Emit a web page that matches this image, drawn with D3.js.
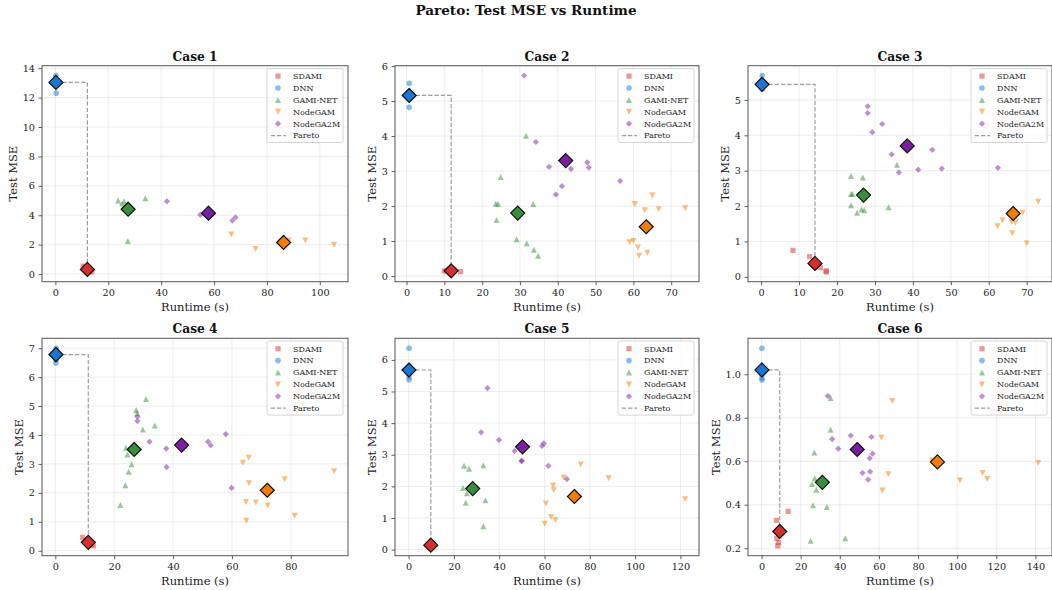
<!DOCTYPE html>
<html><head><meta charset="utf-8">
<script src="https://cdn.jsdelivr.net/npm/d3@7"></script>
<style>body{margin:0;background:#fff} svg{font-family:"DejaVu Serif",serif;display:block}</style>
</head><body><svg id="c" width="1052" height="590"></svg>
<script>
// ---------------- DATA ----------------
const methods = ["SDAMI", "DNN", "GAMI-NET", "NodeGAM", "NodeGA2M"];
const methodColors = ["#d32f2f", "#1976d2", "#388e3c", "#f57c00", "#7b1fa2"];
const caseTitles = ["Case 1", "Case 2", "Case 3", "Case 4", "Case 5", "Case 6"];

// Case 1 [runtime s, test MSE]
const c1_SDAMI = [[10.5,0.55],[11.3,0.45],[12.8,0.2],[13.8,0.15],[12.0,0.3]];
const c1_DNN = [[0.2,13.5],[0.3,12.3],[0.2,13.1],[0.3,13.0]];
const c1_GAMI = [[23.7,5.0],[25.2,4.8],[26.0,4.95],[34.0,5.15],[27.4,2.25],[27.0,4.5],[28.0,4.3]];
const c1_NodeGAM = [[66.5,2.69],[75.7,1.70],[88.2,2.28],[94.5,2.28],[105.4,1.99],[85.5,2.2]];
const c1_NodeGA2M = [[42.2,4.95],[54.8,4.03],[66.9,3.64],[68.1,3.85],[57.5,4.2]];
const c1_means = [[12.1,0.32],[0.2,13.03],[27.5,4.41],[86.3,2.15],[57.9,4.14]];

// Case 2
const c2_SDAMI = [[10.0,0.15],[14.3,0.13],[11.5,0.12],[12.5,0.18],[10.8,0.14]];
const c2_DNN = [[0.7,5.51],[0.7,4.82],[0.6,5.2]];
const c2_GAMI = [[31.6,4.01],[24.9,2.83],[23.6,2.07],[24.2,2.07],[23.8,1.60],[33.5,2.06],[29.1,1.05],[31.8,0.94],[33.7,0.75],[34.8,0.58]];
const c2_NodeGAM = [[60.4,2.06],[65.0,2.30],[63.0,1.88],[66.7,1.91],[73.7,1.94],[59.0,0.97],[60.0,1.00],[61.2,0.82],[61.5,0.58],[63.7,0.67]];
const c2_NodeGA2M = [[31.1,5.73],[34.2,3.83],[37.7,3.12],[43.5,3.06],[47.8,3.25],[48.2,3.10],[56.5,2.72],[41.1,2.57],[39.5,2.33]];
const c2_means = [[11.8,0.15],[0.7,5.16],[29.4,1.80],[63.4,1.41],[42.1,3.30]];

// Case 3
const c3_SDAMI = [[8.4,0.75],[12.8,0.57],[15.6,0.26],[17.1,0.17],[17.2,0.14]];
const c3_DNN = [[0.3,5.69],[0.2,5.4],[0.3,5.3]];
const c3_GAMI = [[23.7,2.85],[26.8,2.81],[23.7,2.34],[24.1,2.34],[23.7,2.02],[25.3,1.81],[26.5,1.91],[27.2,1.88],[33.6,1.97],[35.8,3.17]];
const c3_NodeGAM = [[62.4,4.13],[73.0,2.12],[68.9,1.81],[63.6,1.60],[62.3,1.43],[66.0,1.55],[67.0,1.53],[66.2,1.23],[70.0,0.94]];
const c3_NodeGA2M = [[28.1,4.82],[28.1,4.63],[31.9,4.32],[29.3,4.09],[34.4,3.46],[36.3,2.95],[41.4,3.03],[45.1,3.59],[47.6,3.06],[62.4,3.08]];
const c3_means = [[14.2,0.38],[0.26,5.44],[27.0,2.31],[66.4,1.79],[38.5,3.70]];

// Case 4
const c4_SDAMI = [[9.3,0.46],[12.9,0.17],[12.2,0.22],[10.5,0.35]];
const c4_DNN = [[0.3,7.0],[0.2,6.49],[0.25,6.6]];
const c4_GAMI = [[30.8,5.24],[27.5,4.86],[27.8,4.75],[29.7,4.19],[33.8,4.33],[24.0,3.56],[24.5,3.33],[25.9,2.99],[24.9,2.73],[23.8,2.26],[22.1,1.58]];
const c4_NodeGAM = [[63.7,3.04],[65.7,3.21],[65.8,2.33],[64.8,1.68],[68.1,1.67],[72.1,1.56],[77.9,2.47],[64.9,1.04],[81.3,1.21],[94.7,2.75]];
const c4_NodeGA2M = [[27.9,4.63],[27.9,4.48],[32.0,3.77],[37.7,3.53],[37.8,2.89],[51.9,3.77],[52.8,3.64],[57.9,4.03],[59.9,2.17]];
const c4_means = [[11.2,0.29],[0.2,6.78],[26.8,3.50],[72.0,2.09],[42.9,3.65]];

// Case 5
const c5_SDAMI = [[10.0,0.15],[9.7,0.12],[10.3,0.17]];
const c5_DNN = [[0.2,6.37],[0.2,5.47],[0.2,5.37],[0.1,5.7]];
const c5_GAMI = [[24.5,2.65],[26.7,2.56],[33.0,2.67],[24.0,1.95],[25.7,1.78],[25.2,1.48],[33.9,1.56],[33.0,0.74]];
const c5_NodeGAM = [[76.0,2.69],[88.3,2.26],[122.1,1.59],[68.5,2.27],[63.8,2.03],[64.1,1.88],[60.6,1.46],[62.9,1.03],[64.8,0.93],[60.1,0.82]];
const c5_NodeGA2M = [[34.8,5.11],[32.0,3.71],[39.9,3.47],[46.8,3.12],[50.0,2.81],[49.8,2.80],[58.9,3.28],[59.7,3.36],[61.7,2.65],[69.9,2.23]];
const c5_means = [[9.8,0.14],[0.15,5.68],[28.3,1.93],[73.2,1.68],[50.3,3.25]];

// Case 6
const c6_SDAMI = [[7.6,0.328],[13.6,0.369],[7.8,0.245],[8.7,0.226],[8.3,0.211]];
const c6_DNN = [[0.2,1.12],[0.2,0.983],[0.25,0.974],[0.15,1.0]];
const c6_GAMI = [[35.3,0.745],[27.0,0.64],[27.2,0.522],[25.8,0.495],[28.0,0.469],[26.3,0.398],[33.4,0.389],[25.1,0.234],[42.8,0.246],[35.3,0.891]];
const c6_NodeGAM = [[66.9,0.877],[61.3,0.708],[64.8,0.540],[61.8,0.466],[87.1,0.603],[101.4,0.511],[113.0,0.546],[115.4,0.518],[141.4,0.592]];
const c6_NodeGA2M = [[33.9,0.900],[36.1,0.702],[39.2,0.658],[45.6,0.718],[56.2,0.712],[56.8,0.635],[55.3,0.614],[51.6,0.546],[55.5,0.552],[54.5,0.515]];
const c6_means = [[9.3,0.277],[0.2,1.02],[31.1,0.503],[89.9,0.597],[48.9,0.654]];

// Tick values
const xTicks = [[0,20,40,60,80,100],[0,10,20,30,40,50,60,70],[0,10,20,30,40,50,60,70],[0,20,40,60,80],[0,20,40,60,80,100,120],[0,20,40,60,80,100,120,140]];
const yTicks = [[0,2,4,6,8,10,12,14],[0,1,2,3,4,5,6],[0,1,2,3,4,5],[0,1,2,3,4,5,6,7],[0,1,2,3,4,5,6],[0.2,0.4,0.6,0.8,1.0]];
const yTickFormats = ["d","d","d","d","d",".1f"];

const casePoints = [
  [c1_SDAMI,c1_DNN,c1_GAMI,c1_NodeGAM,c1_NodeGA2M],
  [c2_SDAMI,c2_DNN,c2_GAMI,c2_NodeGAM,c2_NodeGA2M],
  [c3_SDAMI,c3_DNN,c3_GAMI,c3_NodeGAM,c3_NodeGA2M],
  [c4_SDAMI,c4_DNN,c4_GAMI,c4_NodeGAM,c4_NodeGA2M],
  [c5_SDAMI,c5_DNN,c5_GAMI,c5_NodeGAM,c5_NodeGA2M],
  [c6_SDAMI,c6_DNN,c6_GAMI,c6_NodeGAM,c6_NodeGA2M]
];
const caseMeans = [c1_means,c2_means,c3_means,c4_means,c5_means,c6_means];

// ---------------- LAYOUT ----------------
const axesRects = [ // [left, top, right, bottom]
  [42,65.7,348,281.7],[395,65.7,699,281.7],[748,65.7,1052,281.7],
  [42,338.3,348,555.7],[395,338.3,699,555.7],[748,338.3,1052,555.7]
];
const FONT = '"DejaVu Serif", serif';

function markerPath(kind, r) {
  switch (kind) {
    case 0: return `M${-r},${-r}H${r}V${r}H${-r}Z`;
    case 1: return `M${r},0A${r},${r} 0 1,1 ${-r},0A${r},${r} 0 1,1 ${r},0Z`;
    case 2: return `M0,${-r}L${r},${r}L${-r},${r}Z`;
    case 3: return `M0,${r}L${r},${-r}L${-r},${-r}Z`;
    case 4: return `M0,${-r}L${r},0L0,${r}L${-r},0Z`;
  }
}
const smallR = [2.6, 2.8, 3.0, 3.0, 3.1];

const svg = d3.select("#c");
svg.append("rect").attr("width",1052).attr("height",590).attr("fill","#fff");

svg.append("text").attr("x",526).attr("y",14.5).attr("text-anchor","middle")
  .attr("font-family",FONT).attr("font-weight","bold").attr("font-size","13.6px")
  .attr("fill","#111").text("Pareto: Test MSE vs Runtime");

casePoints.forEach((pts, i) => {
  const [L,T,R,B] = axesRects[i];
  const means = caseMeans[i];
  const all = pts.flat().concat(means);
  const xe = d3.extent(all, d => d[0]), ye = d3.extent(all, d => d[1]);
  const xr = xe[1]-xe[0], yr = ye[1]-ye[0];
  const x = d3.scaleLinear().domain([xe[0]-0.05*xr, xe[1]+0.05*xr]).range([L,R]);
  const y = d3.scaleLinear().domain([ye[0]-0.05*yr, ye[1]+0.05*yr]).range([B,T]);

  const g = svg.append("g");
  const clipId = "clip"+i;
  g.append("clipPath").attr("id",clipId).append("rect")
    .attr("x",L).attr("y",T).attr("width",R-L).attr("height",B-T);

  // grid
  const grid = g.append("g").attr("stroke","#b0b0b0").attr("stroke-opacity",0.3).attr("stroke-width",0.8);
  xTicks[i].forEach(t => grid.append("line").attr("x1",x(t)).attr("x2",x(t)).attr("y1",T).attr("y2",B));
  yTicks[i].forEach(t => grid.append("line").attr("y1",y(t)).attr("y2",y(t)).attr("x1",L).attr("x2",R));

  // axes
  const xa = g.append("g").attr("transform",`translate(0,${B})`)
    .call(d3.axisBottom(x).tickValues(xTicks[i]).tickFormat(d3.format("d")).tickSize(3.5).tickPadding(3.5));
  const ya = g.append("g").attr("transform",`translate(${L},0)`)
    .call(d3.axisLeft(y).tickValues(yTicks[i]).tickFormat(d3.format(yTickFormats[i])).tickSize(3.5).tickPadding(3.5));
  [xa,ya].forEach(a => {
    a.select(".domain").remove();
    a.selectAll("line").attr("stroke","#333").attr("stroke-width",0.8);
    a.selectAll("text").attr("font-family",FONT).attr("font-size","9.7px").attr("fill","#222");
  });

  // points
  const pg = g.append("g").attr("clip-path",`url(#${clipId})`);
  pts.forEach((arr, m) => {
    pg.selectAll(null).data(arr).enter().append("path")
      .attr("d", markerPath(m, smallR[m]))
      .attr("transform", d => `translate(${x(d[0])},${y(d[1])})`)
      .attr("fill", methodColors[m]).attr("fill-opacity", 0.5);
  });

  // Pareto front from mean points
  const sorted = means.map((d,m)=>({x:d[0],y:d[1],m})).sort((a,b)=>a.x-b.x);
  const front = []; let best = Infinity;
  sorted.forEach(p => { if (p.y < best) { front.push(p); best = p.y; } });
  pg.append("path").datum(front)
    .attr("d", d3.line().x(d=>x(d.x)).y(d=>y(d.y)).curve(d3.curveStepAfter))
    .attr("fill","none").attr("stroke","#9e9e9e").attr("stroke-width",1.2)
    .attr("stroke-dasharray","4.4,1.9");

  // mean diamonds
  means.forEach((d, m) => {
    pg.append("path").attr("d", markerPath(4, 7))
      .attr("transform", `translate(${x(d[0])},${y(d[1])})`)
      .attr("fill", methodColors[m]).attr("stroke","#111").attr("stroke-width",1.2);
  });

  // frame
  g.append("rect").attr("x",L).attr("y",T).attr("width",R-L).attr("height",B-T)
    .attr("fill","none").attr("stroke","#555").attr("stroke-width",1);

  // legend
  const lw = 76, lh = 74, lx = R-5-lw, ly = T+2.8;
  const lg = g.append("g");
  lg.append("rect").attr("x",lx).attr("y",ly).attr("width",lw).attr("height",lh)
    .attr("rx",2).attr("fill","#fff").attr("fill-opacity",0.8)
    .attr("stroke","#cccccc").attr("stroke-width",0.8);
  const rows = methods.concat(["Pareto"]);
  rows.forEach((name, k) => {
    const cy = T + 10.4 + k*11.9;
    if (k < 5) {
      lg.append("path").attr("d", markerPath(k, smallR[k]))
        .attr("transform", `translate(${lx+11},${cy})`)
        .attr("fill", methodColors[k]).attr("fill-opacity",0.5);
    } else {
      lg.append("line").attr("x1",lx+3.7).attr("x2",lx+19).attr("y1",cy).attr("y2",cy)
        .attr("stroke","#9e9e9e").attr("stroke-width",1.2).attr("stroke-dasharray","4.4,1.9");
    }
    lg.append("text").attr("x",lx+26).attr("y",cy).attr("dy","0.35em")
      .attr("font-family",FONT).attr("font-size","8px").attr("fill","#222").text(name);
  });

  // titles & labels
  g.append("text").attr("x",(L+R)/2).attr("y",T-5).attr("text-anchor","middle")
    .attr("font-family",FONT).attr("font-weight","bold").attr("font-size","12.2px")
    .attr("fill","#111").text(caseTitles[i]);
  g.append("text").attr("x",(L+R)/2).attr("y",B+29).attr("text-anchor","middle")
    .attr("font-family",FONT).attr("font-size","11.5px").attr("fill","#222").text("Runtime (s)");
  const yb = ya.node().getBBox();
  const cx = L + yb.x - 9.5, cyy = (T+B)/2;
  g.append("text").attr("transform",`translate(${cx},${cyy}) rotate(-90)`)
    .attr("text-anchor","middle").attr("dy","0.35em")
    .attr("font-family",FONT).attr("font-size","11.5px").attr("fill","#222").text("Test MSE");
});
</script></body></html>
